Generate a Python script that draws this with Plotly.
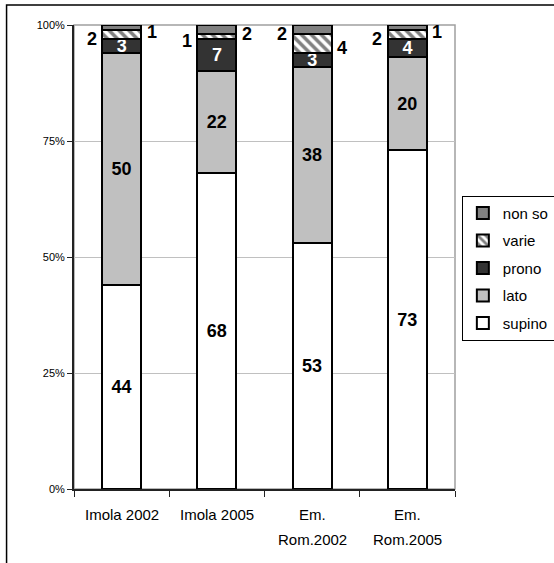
import plotly.graph_objects as go

categories = ["Imola 2002", "Imola 2005", "Em. Rom.2002", "Em. Rom.2005"]
tick_line1 = ["Imola 2002", "Imola 2005", "Em.", "Em."]
tick_line2 = ["", "", "Rom.2002", "Rom.2005"]
supino = [44, 68, 53, 73]
lato = [50, 22, 38, 20]
prono = [3, 7, 3, 4]
varie = [2, 1, 4, 2]
non_so = [1, 2, 2, 1]

# which side the small labels sit on (Excel put them outside the bar by hand)
varie_side = ["left", "left", "right", "left"]
non_so_side = ["right", "right", "left", "right"]

FONT = "Liberation Sans, Arial"
fig = go.Figure()
bar_line = dict(color="black", width=2)


def inside_text(values, color):
    return dict(text=values, textposition="inside", insidetextanchor="middle", constraintext="none",
                textangle=0, texttemplate="<b>%{text}</b>",
                textfont=dict(family=FONT, size=18, color=color))


fig.add_bar(x=categories, y=supino, name="supino", legendgroup="supino", legendrank=5,
            marker=dict(color="white", line=bar_line), **inside_text(supino, "black"))
fig.add_bar(x=categories, y=lato, name="lato", legendgroup="lato", legendrank=4,
            marker=dict(color="#c0c0c0", line=bar_line), **inside_text(lato, "black"))
fig.add_bar(x=categories, y=prono, name="prono", legendgroup="prono", legendrank=3,
            marker=dict(color="#333333", line=bar_line), **inside_text(prono, "white"))
fig.add_bar(x=categories, y=varie, name="varie", legendgroup="varie", legendrank=2,
            marker=dict(color="white", line=bar_line,
                        pattern=dict(shape="\\", fgcolor="#808080", bgcolor="white", size=7, solidity=0.5)))
fig.add_bar(x=categories, y=non_so, name="non so", legendgroup="non so", legendrank=1,
            marker=dict(color="#808080", line=bar_line))

# outside labels for the two thin top segments
for i, cat in enumerate(categories):
    base = supino[i] + lato[i] + prono[i]
    for val, bottom, side in [(varie[i], base, varie_side[i]), (non_so[i], base + varie[i], non_so_side[i])]:
        fig.add_annotation(x=cat, y=bottom + val / 2 - 1, text="<b>%d</b>" % val, showarrow=False,
                           xshift=-30 if side == "left" else 30,
                           font=dict(family=FONT, size=18, color="black"))

# category labels, drawn as two lines with Excel's wide line spacing
for cat, l1, l2 in zip(categories, tick_line1, tick_line2):
    fig.add_annotation(x=cat, y=0, yref="paper", text=l1, showarrow=False, yanchor="middle",
                       yshift=-25, font=dict(family=FONT, size=15, color="black"))
    if l2:
        fig.add_annotation(x=cat, y=0, yref="paper", text=l2, showarrow=False, yanchor="middle",
                           yshift=-50, font=dict(family=FONT, size=15, color="black"))

# outer chart frame (only top and left edges show)
fig.add_shape(type="rect", xref="paper", yref="paper", x0=-0.177, x1=1.4, y0=-0.3, y1=1.043,
              line=dict(color="black", width=1.5), layer="below")
# plot area border
fig.add_shape(type="rect", xref="paper", yref="paper", x0=0, x1=1, y0=0, y1=1,
              line=dict(color="#a0a0a0", width=1.5), layer="below")

fig.update_layout(
    template="none",
    barmode="stack", bargap=0.59,
    width=554, height=563,
    margin=dict(l=74, r=99, t=25, b=74, autoexpand=False),
    plot_bgcolor="white", paper_bgcolor="white",
    font=dict(family=FONT, color="black"),
    showlegend=True,
    legend=dict(x=1.018, y=0.632, xanchor="left", yanchor="top", traceorder="grouped",
                bordercolor="black", borderwidth=1, font=dict(size=15, color="black"),
                itemwidth=30, tracegroupgap=5, bgcolor="white"),
)
fig.update_xaxes(showline=True, linecolor="#222222", linewidth=2, ticks="outside",
                 tickson="boundaries", ticklen=6, tickcolor="#222222", showticklabels=False,
                 showgrid=False, zeroline=False)
fig.update_yaxes(range=[0, 100], tickvals=[0, 25, 50, 75, 100],
                 ticktext=["0%", "25%", "50%", "75%", "100%"],
                 showline=True, linecolor="#222222", linewidth=2, ticks="outside", ticklen=5,
                 tickcolor="#222222", showgrid=True, gridcolor="#c0c0c0", gridwidth=1,
                 tickfont=dict(size=11, color="black"), zeroline=False)

# the page's default body margin would push the chart 8px right and down
fig.write_html("out.html", config={"displayModeBar": False},
               post_script="document.body.style.margin='0';")
